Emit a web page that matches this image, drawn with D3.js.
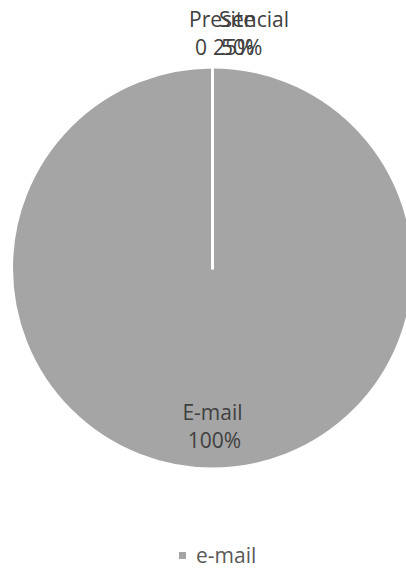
<!DOCTYPE html>
<html lang="pt">
    <head>
        <meta charset="utf-8">
        <title>Canal de contato</title>
        <script src="https://d3js.org/d3.v7.min.js"></script>
    </head>
    <style>
        body { margin: 0; background: #fff; }
        svg { display: block; }
        text { font-family: "Open Sans", sans-serif; }
    </style>
    <body>
        <script type="text/javascript">

            // data
            var labelNames  = ["E-mail", "Presencial", "Site", ""];
            var labelValues = ["100%", "0", "25%", "50%"];
            var values      = [100, 0, 0, 0];
            var legendNames = ["e-mail"];

            // horizontal nudges for the crowded labels at the top (start-anchored)
            var nameNudge  = [0, -23.5, 6.5, 0];
            var valueNudge = [0, -17.5, 0.5, 8.5];

            var width = 406, height = 572;
            var cx = 212.5, cy = 268, radius = 201;
            var fontSize = 21;

            var svg = d3.select("body")
                        .append("svg")
                        .attr("width", width)
                        .attr("height", height);

            var g = svg.append("g").attr("transform", "translate(" + cx + "," + cy + ")");

            var pie = d3.pie().sort(null).value(function(d) { return d; });
            var arcs = pie(values);

            var arc = d3.arc().innerRadius(0).outerRadius(radius);
            var insideArc = d3.arc().innerRadius(164).outerRadius(164);
            var outsideArc = d3.arc().innerRadius(radius + 28).outerRadius(radius + 28);

            g.selectAll("path")
             .data(arcs)
             .enter().append("path")
             .attr("d", arc)
             .attr("fill", "#a5a5a5")
             .attr("stroke", "#fff")
             .attr("stroke-width", 3)
             .attr("stroke-linejoin", "round");

            var labels = g.selectAll("g.label")
                          .data(arcs)
                          .enter().append("g")
                          .attr("class", "label")
                          .attr("transform", function(d) {
                              var c = d.value > 0 ? insideArc.centroid(d) : outsideArc.centroid(d);
                              return "translate(" + c[0] + "," + c[1] + ")";
                          });

            labels.append("text")
                  .attr("x", function(d, i) { return d.value > 0 ? 0 : nameNudge[i]; })
                  .attr("y", -12.5)
                  .attr("text-anchor", function(d) { return d.value > 0 ? "middle" : "start"; })
                  .attr("font-size", fontSize)
                  .attr("fill", "#404040")
                  .text(function(d, i) { return labelNames[i]; });

            labels.append("text")
                  .attr("x", function(d, i) { return d.value > 0 ? 2 : valueNudge[i]; })
                  .attr("y", 16)
                  .attr("text-anchor", function(d) { return d.value > 0 ? "middle" : "start"; })
                  .attr("font-size", fontSize)
                  .attr("fill", "#404040")
                  .text(function(d, i) { return labelValues[i]; });

            // legend
            var legend = svg.append("g")
                            .selectAll("g")
                            .data(legendNames)
                            .enter().append("g")
                            .attr("transform", "translate(179,563)");

            legend.append("rect")
                  .attr("x", 0)
                  .attr("y", -11)
                  .attr("width", 7)
                  .attr("height", 7)
                  .attr("fill", "#a5a5a5");

            legend.append("text")
                  .attr("x", 17)
                  .attr("font-size", fontSize)
                  .attr("fill", "#595959")
                  .text(function(d) { return d; });

        </script>
    </body>
</html>
